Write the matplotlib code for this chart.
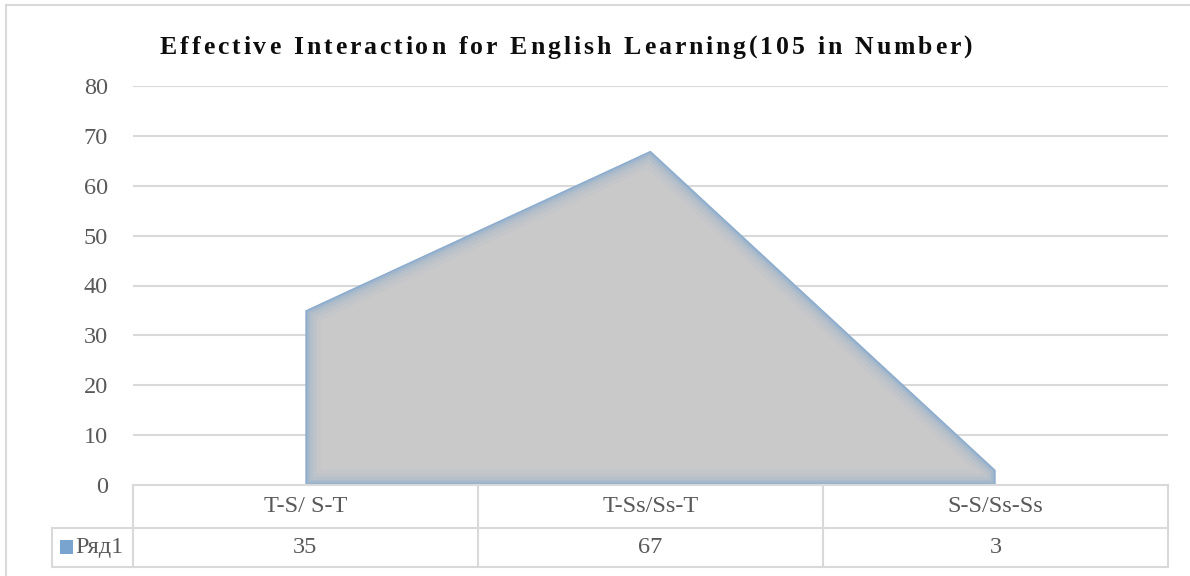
import matplotlib
matplotlib.use('Agg')
import matplotlib.pyplot as plt
from matplotlib.patches import Polygon, Rectangle
import numpy as np

categories = ['T-S/ S-T', 'T-Ss/Ss-T', 'S-S/Ss-Ss']
values = [35, 67, 3]
series_name = 'Ряд1'
title = 'Effective Interaction for English Learning(105 in Number)'
y_ticks = [0, 10, 20, 30, 40, 50, 60, 70, 80]

W, H = 1190, 576
plt.rcParams['font.family'] = ['Liberation Serif', 'DejaVu Serif']

fig = plt.figure(figsize=(W / 100, H / 100), dpi=100)
fig.patch.set_facecolor('white')


def fx(px):
    return px / W


def fy(py):
    return 1 - py / H


grid_c = '#d9d9d9'
text_c = '#595959'

# outer chart border
fig.add_artist(plt.Line2D([fx(6), fx(6)], [fy(5), fy(576)], color=grid_c, lw=1.5))
fig.add_artist(plt.Line2D([fx(6), fx(1190)], [fy(5), fy(5)], color=grid_c, lw=1.5))

ax = fig.add_axes([fx(133), fy(485), fx(1168) - fx(133), fy(86) - fy(485)])
ax.set_xlim(0, len(categories))
ax.set_ylim(0, 80)
for s in ax.spines.values():
    s.set_visible(False)
ax.set_yticks(y_ticks)
ax.set_yticklabels([str(t) for t in y_ticks], fontsize=17.5, color=text_c)
ax.tick_params(axis='y', length=0, pad=18)
ax.set_xticks([])
ax.set_axisbelow(True)
for t in y_ticks[1:]:
    ax.axhline(t, color=grid_c, lw=1.5, zorder=0)

# area with soft blue inner edge
xs = np.arange(len(categories)) + 0.5
pts = [(xs[0], 0)] + list(zip(xs, values)) + [(xs[-1], 0)]
poly = Polygon(pts, closed=True, facecolor='#c9c9c9', edgecolor='none', zorder=2)
ax.add_patch(poly)
px_, py_ = zip(*(pts + [pts[0]]))
for lw, a in [(22, 0.05), (16, 0.07), (11, 0.1), (7, 0.14), (4, 0.2), (2, 0.35)]:
    ln, = ax.plot(px_, py_, color='#6d9fd3', lw=lw, alpha=a, zorder=3,
                  solid_joinstyle='miter')
    ln.set_clip_path(poly)

# data table
col_edges = np.arange(len(categories) + 1)
row_top, row_mid, row_bot = fy(485), fy(528), fy(567)
fig.add_artist(plt.Line2D([fx(133), fx(1168)], [row_top, row_top], color=grid_c, lw=1.5))
fig.add_artist(plt.Line2D([fx(52), fx(1168)], [row_mid, row_mid], color=grid_c, lw=1.5))
fig.add_artist(plt.Line2D([fx(52), fx(1168)], [row_bot, row_bot], color=grid_c, lw=1.5))
fig.add_artist(plt.Line2D([fx(52), fx(52)], [row_mid, row_bot], color=grid_c, lw=1.5))
for e in col_edges:
    xe = fx(133) + (fx(1168) - fx(133)) * e / len(categories)
    fig.add_artist(plt.Line2D([xe, xe], [row_top, row_bot], color=grid_c, lw=1.5))
for i, (c, v) in enumerate(zip(categories, values)):
    xc = fx(133) + (fx(1168) - fx(133)) * (i + 0.5) / len(categories)
    fig.text(xc, (row_top + row_mid) / 2, c, ha='center', va='center', fontsize=17.5, color=text_c)
    fig.text(xc, (row_mid + row_bot) / 2, str(v), ha='center', va='center', fontsize=17.5, color=text_c)
fig.add_artist(Rectangle((fx(60), fy(554)), fx(13), fy(540) - fy(554), facecolor='#7aa4d0',
                         edgecolor='none', transform=fig.transFigure))
fig.text(fx(75), (row_mid + row_bot) / 2, series_name, ha='left', va='center', fontsize=17.5, color=text_c)

# title with wide letter spacing
renderer = fig.canvas.get_renderer()
tx0, tx1, tbase = 160, 972, 54
tsize = 18.5
widths = []
for ch in title:
    t = fig.text(0, 0, ch if ch != ' ' else 'n', fontsize=tsize, fontweight='bold')
    widths.append(t.get_window_extent(renderer).width * (0.5 if ch == ' ' else 1.0))
    t.remove()
track = (tx1 - tx0 - sum(widths)) / (len(title) - 1)
x = tx0
for ch, w in zip(title, widths):
    if ch != ' ':
        fig.text(fx(x), fy(tbase), ch, fontsize=tsize, fontweight='bold', color='#0d0d0d',
                 ha='left', va='baseline')
    x += w + track

fig.savefig('out.png', dpi=100, facecolor='white')
